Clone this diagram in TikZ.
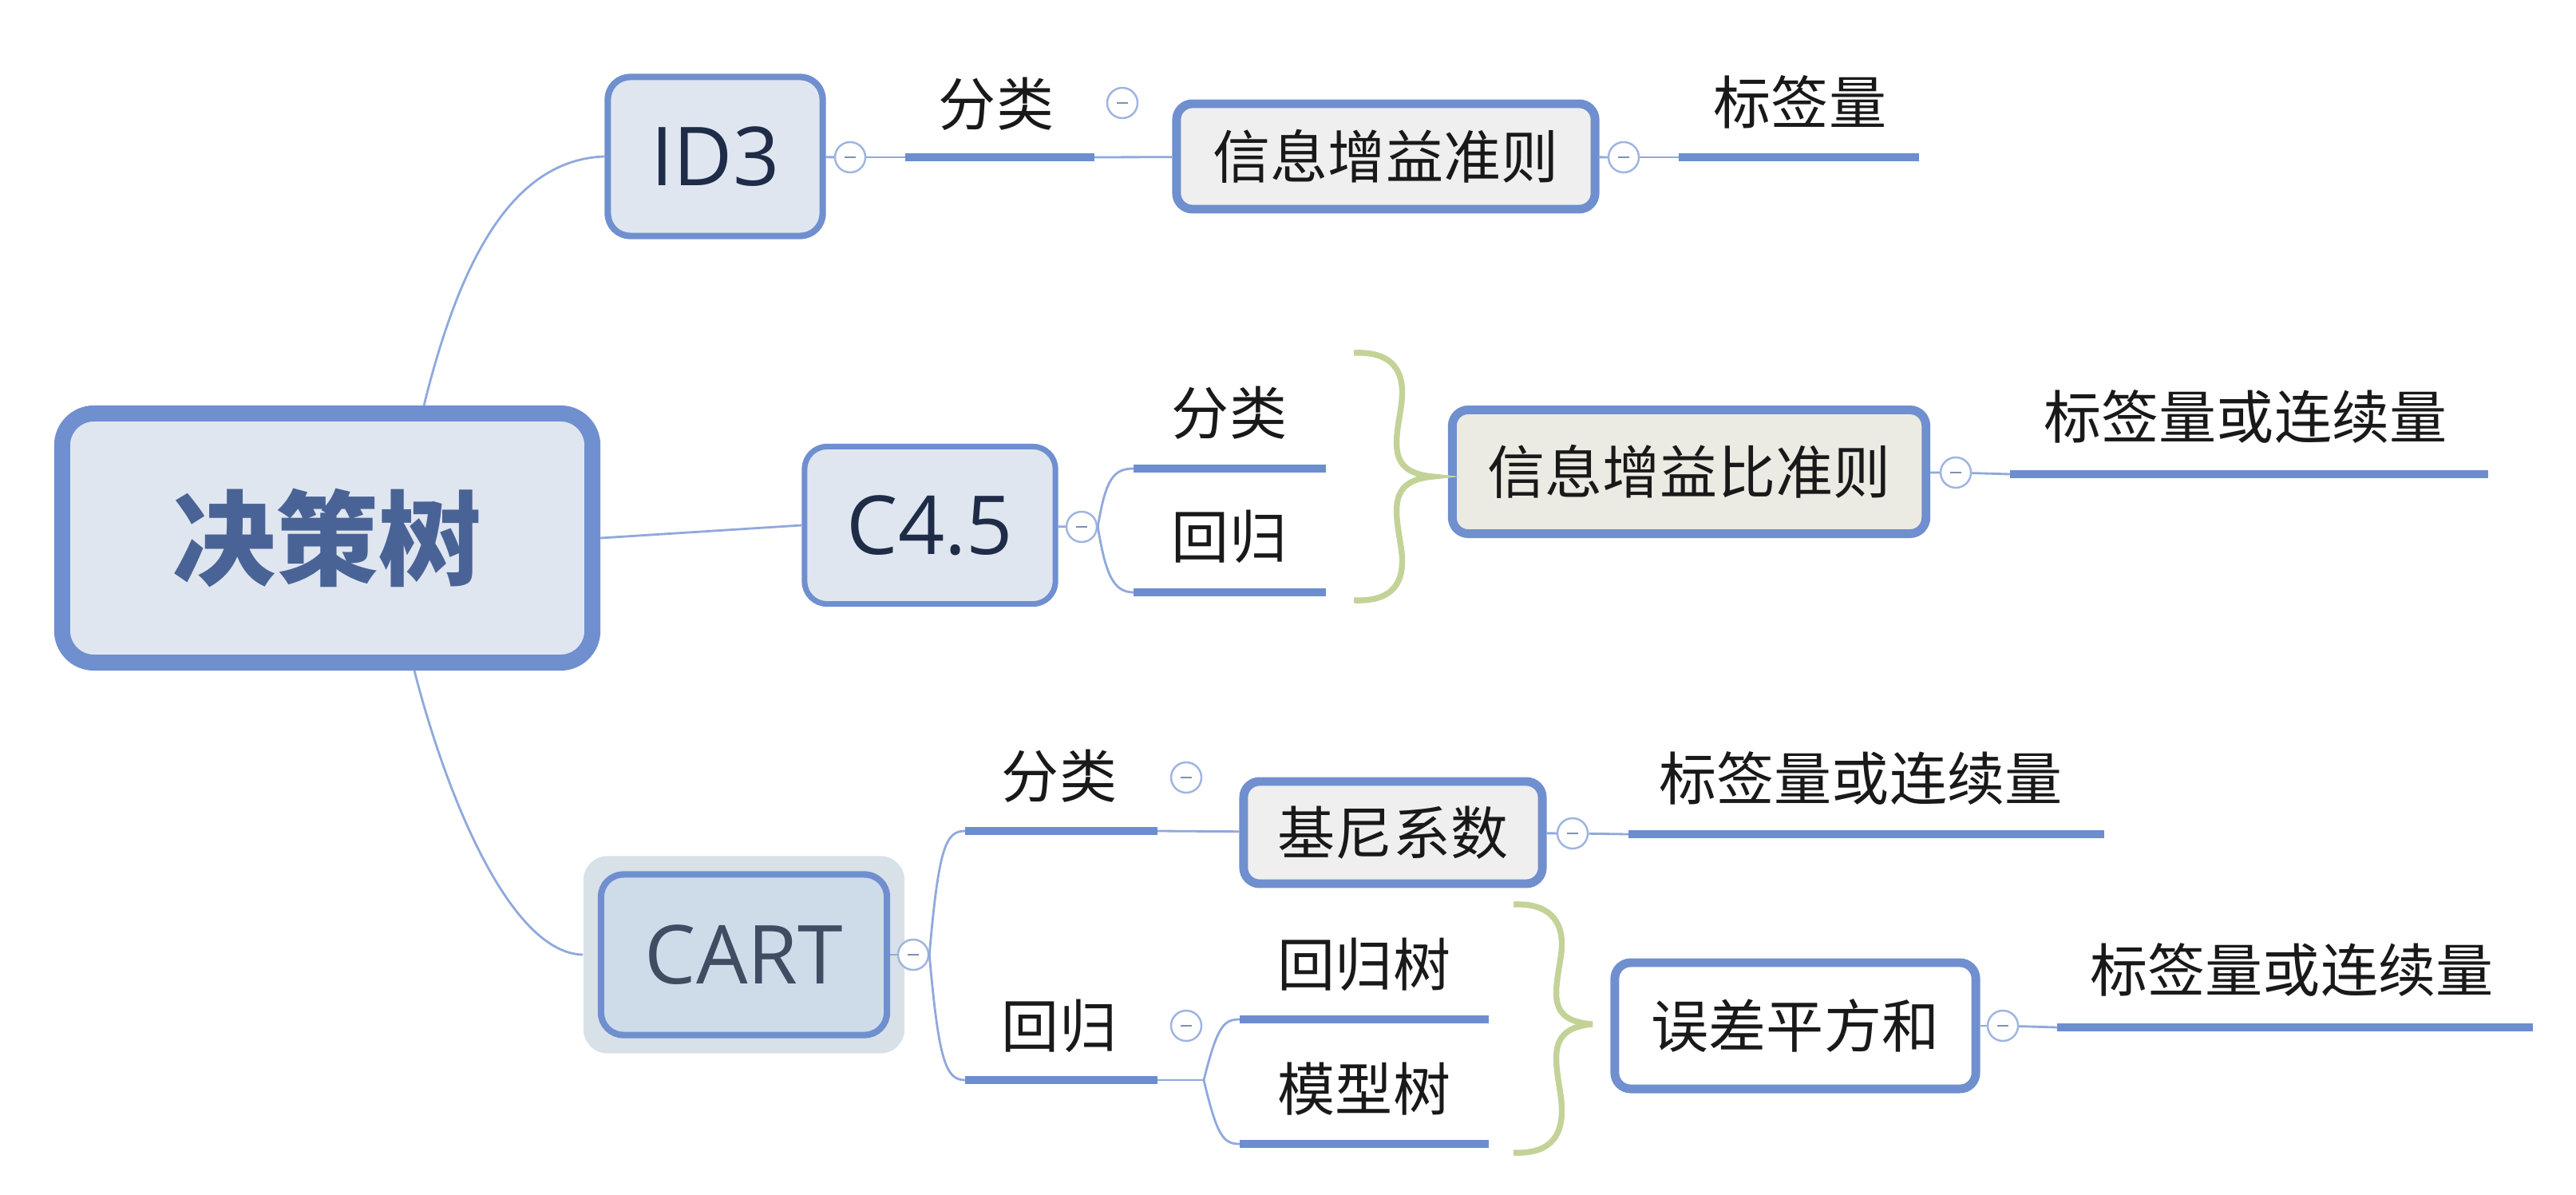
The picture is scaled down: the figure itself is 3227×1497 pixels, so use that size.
\documentclass[tikz,border=0pt]{standalone}
\usepackage{fontspec}
\setmainfont{Noto Sans CJK SC}
\newfontfamily\latinf{Open Sans}
\definecolor{lineblue}{HTML}{8FA9DC}
\definecolor{barblue}{HTML}{6C8ED0}
\definecolor{bordblue}{HTML}{6F8FCF}
\definecolor{fillblue}{HTML}{DFE6F0}
\definecolor{cartfill}{HTML}{CEDCEA}
\definecolor{cartglow}{HTML}{D9E1E8}
\definecolor{grayfill}{HTML}{EFEFEF}
\definecolor{beigefill}{HTML}{EBEBE3}
\definecolor{bracegreen}{HTML}{C3D398}
\definecolor{roottext}{HTML}{4A6396}
\definecolor{navy}{HTML}{1F2C48}
\definecolor{togblue}{HTML}{9FB5E0}
\definecolor{togminus}{HTML}{8090B0}
\tikzset{
  box/.style={draw=bordblue, inner sep=0pt, align=center},
  latinbox/.style={box, line width=2.3pt, fill=fillblue, rounded corners=0.28cm, text=navy, font=\latinf\fontsize{29}{32}\selectfont},
  rulebox/.style={box, line width=3.1pt, rounded corners=0.2cm, text=black!90, font=\fontsize{20.5}{24}\selectfont},
  lbl/.style={inner sep=0pt, text=black!90, font=\fontsize{20.5}{24}\selectfont},
  link/.style={draw=lineblue, line width=0.8pt},
  bar/.style={draw=barblue, line width=3.1pt},
  brace/.style={draw=bracegreen, line width=2.1pt},
  tog/.style={circle, draw=togblue, fill=white, line width=0.7pt, minimum size=0.38cm, inner sep=0pt,
    path picture={\draw[togminus, line width=0.6pt] ([xshift=-0.07cm]path picture bounding box.center) -- ([xshift=0.07cm]path picture bounding box.center);}}
}
\begin{document}
\begin{tikzpicture}[x=0.01cm, y=-0.01cm]
\useasboundingbox[fill=white] (0,0) rectangle (3227,1497);

% ---------- main boxes ----------
\node[box, line width=5.7pt, fill=fillblue, minimum width=6.64cm, minimum height=3.12cm,
      rounded corners=0.4cm, text=roottext, font=\fontsize{36.7}{40}\selectfont\bfseries] (root) at (410,674) {决策树};

\node[latinbox, minimum width=2.69cm, minimum height=1.99cm] (id3) at (896,196) {ID3};
\node[latinbox, line width=2pt, minimum width=3.14cm, minimum height=1.97cm] (c45) at (1165,658) {C4.5};
\node[fill=cartglow, rounded corners=0.3cm, minimum width=4.02cm, minimum height=2.47cm, inner sep=0pt] (cartglow) at (932,1196) {};
\node[latinbox, fill=cartfill, text=navy!85!white, minimum width=3.58cm, minimum height=2.01cm] (cart) at (932,1196) {CART};

\node[rulebox, fill=grayfill, minimum width=5.24cm, minimum height=1.32cm] (gain) at (1736,196) {信息增益准则};
\node[rulebox, fill=beigefill, minimum width=5.93cm, minimum height=1.55cm] (ratio) at (2116,591) {信息增益比准则};
\node[rulebox, fill=grayfill, minimum width=3.74cm, minimum height=1.28cm] (gini) at (1745,1043) {基尼系数};
\node[rulebox, fill=white, minimum width=4.52cm, minimum height=1.58cm] (sse) at (2249,1285) {误差平方和};

% ---------- toggles ----------
\node[tog] (tid3) at (1065,197) {};
\node[tog] (tcls1) at (1406,129) {};
\node[tog] (tgain) at (2034,197) {};
\node[tog] (tc45) at (1355,660) {};
\node[tog] (tratio) at (2450,592) {};
\node[tog] (tcart) at (1144,1196) {};
\node[tog] (tcls3) at (1486,974) {};
\node[tog] (tgini) at (1970,1044) {};
\node[tog] (treg3) at (1486,1285) {};
\node[tog] (tsse) at (2509,1285) {};

% ---------- labels ----------
\node[lbl] (cls1) at (1248,130) {分类};
\node[lbl] (tag1) at (2255,128) {标签量};
\node[lbl] (cls2) at (1540,517) {分类};
\node[lbl] (reg2) at (1540,672) {回归};
\node[lbl] (tag2) at (2813,522) {标签量或连续量};
\node[lbl] (cls3) at (1327,972) {分类};
\node[lbl] (reg3) at (1327,1285) {回归};
\node[lbl] (tag3) at (2331,975) {标签量或连续量};
\node[lbl] (rt) at (1709,1208) {回归树};
\node[lbl] (mt) at (1709,1364) {模型树};
\node[lbl] (tag4) at (2871,1215) {标签量或连续量};

% ---------- bar coordinates ----------
\coordinate (b1a) at (1134,197);  \coordinate (b1b) at (1371,197);
\coordinate (b2a) at (2103,197);  \coordinate (b2b) at (2404,197);
\coordinate (b3a) at (1420,587);  \coordinate (b3b) at (1661,587);
\coordinate (b4a) at (1420,742);  \coordinate (b4b) at (1661,742);
\coordinate (b5a) at (2518,594);  \coordinate (b5b) at (3117,594);
\coordinate (b6a) at (1209,1041); \coordinate (b6b) at (1450,1041);
\coordinate (b7a) at (1209,1353); \coordinate (b7b) at (1450,1353);
\coordinate (b8a) at (2040,1045); \coordinate (b8b) at (2636,1045);
\coordinate (b9a) at (1553,1277); \coordinate (b9b) at (1865,1277);
\coordinate (b10a) at (1553,1433); \coordinate (b10b) at (1865,1433);
\coordinate (b11a) at (2577,1287); \coordinate (b11b) at (3173,1287);
\coordinate (split) at (1508,1353);

% ---------- root connectors ----------
\draw[link] ([xshift=1.21cm]root.north) .. controls (575,330) and (640,200) .. (id3.west);
\draw[link] (root.east) -- (c45.west);
\draw[link] ([xshift=1.09cm]root.south) .. controls (560,1000) and (640,1194) .. (cartglow.west);

% ---------- ID3 branch ----------
\draw[link] (id3) -- (tid3);
\draw[link] (tid3) -- (b1a);
\draw[bar] (b1a) -- (b1b);
\draw[link] (b1b) -- (gain);
\draw[link] (gain) -- (tgain);
\draw[link] (tgain) -- (b2a);
\draw[bar] (b2a) -- (b2b);

% ---------- C4.5 branch ----------
\draw[link] (c45) -- (tc45);
\draw[link] (tc45.east) .. controls (1385,600) and (1395,587) .. (b3a);
\draw[link] (tc45.east) .. controls (1385,720) and (1395,742) .. (b4a);
\draw[bar] (b3a) -- (b3b);
\draw[bar] (b4a) -- (b4b);
\draw[brace] (1696,442) .. controls (1745,440) and (1762,465) .. (1755,510)
   .. controls (1748,555) and (1738,592) .. (1795,597)
   .. controls (1738,602) and (1748,640) .. (1755,685)
   .. controls (1762,730) and (1745,754) .. (1696,752);
\draw[link] (ratio) -- (tratio);
\draw[link] (tratio) -- (b5a);
\draw[bar] (b5a) -- (b5b);

% ---------- CART branch ----------
\draw[link] (cart) -- (tcart);
\draw[link] (tcart.east) .. controls (1176,1060) and (1185,1041) .. (b6a);
\draw[link] (tcart.east) .. controls (1176,1330) and (1185,1353) .. (b7a);
\draw[bar] (b6a) -- (b6b);
\draw[bar] (b7a) -- (b7b);
\draw[link] (b6b) -- (gini);
\draw[link] (gini) -- (tgini);
\draw[link] (tgini) -- (b8a);
\draw[bar] (b8a) -- (b8b);
\draw[link] (b7b) -- (split);
\draw[link] (split) .. controls (1525,1285) and (1533,1277) .. (b9a);
\draw[link] (split) .. controls (1525,1425) and (1533,1433) .. (b10a);
\draw[bar] (b9a) -- (b9b);
\draw[bar] (b10a) -- (b10b);
\draw[brace] (1896,1133) .. controls (1945,1131) and (1962,1158) .. (1955,1200)
   .. controls (1948,1245) and (1938,1279) .. (1995,1283)
   .. controls (1938,1288) and (1948,1325) .. (1955,1372)
   .. controls (1962,1420) and (1945,1446) .. (1896,1444);
\draw[link] (sse) -- (tsse);
\draw[link] (tsse) -- (b11a);
\draw[bar] (b11a) -- (b11b);
\end{tikzpicture}
\end{document}
